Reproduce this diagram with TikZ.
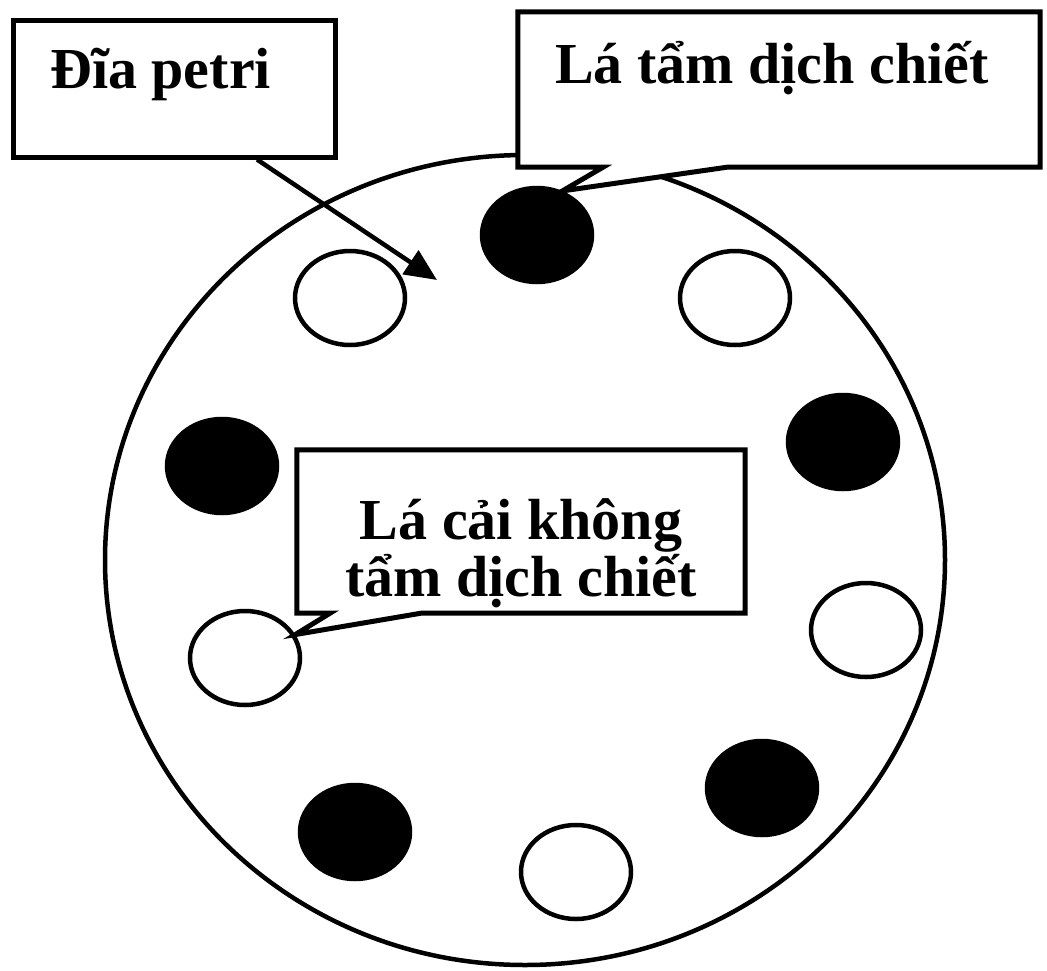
\documentclass[tikz,border=0pt]{standalone}
\usepackage{fontspec}
\setmainfont{Liberation Serif}
\usetikzlibrary{shapes.geometric, arrows.meta, positioning}

\tikzset{
  hole/.style={ellipse, draw, line width=4.5pt, inner sep=0pt, minimum width=110pt, minimum height=94pt},
  callout/.style={draw, fill=white, line width=5pt, line join=miter},
  lbl/.style={font=\fontsize{58}{57}\selectfont\bfseries, inner sep=0pt},
}

\begin{document}
\begin{tikzpicture}[x=1pt,y=-1pt]
  \useasboundingbox (0,0) rectangle (1047,970);

  % the dish
  \node[ellipse, draw, line width=4.5pt, inner sep=0pt,
        minimum width=840pt, minimum height=810pt] (dish) at (525,560) {};

  % leaf discs (black = soaked, white = not soaked)
  \foreach \n/\x/\y/\c in {h1/537/235/black, h2/350/298/white, h3/735/298/white,
                           h4/843/442/black, h5/222/466/black, h6/866/630/white,
                           h7/245/658/white, h8/762/788/black, h9/355/832/black,
                           h10/576/872/white}{
    \node[hole, fill=\c] (\n) at (\x,\y) {};
  }

  % Dia petri
  \node[callout, minimum width=322pt, minimum height=137pt] (petri) at (174,88.5) {};
  \node[lbl, anchor=base west] (petritext) at (50,88) {Đĩa petri};
  \coordinate (aim) at (437,280);
  \draw[line width=4.5pt, -{Triangle[length=32pt,width=28pt]}] ([xshift=83pt]petri.south) -- (aim);

  % la tam dich chiet
  \node[minimum width=522pt, minimum height=155pt, inner sep=0pt] (tam) at (779,89.5) {};
  \draw[callout] (tam.north west) -- (tam.north east) -- (tam.south east)
    -- ([xshift=-52pt]tam.south) -- (h1.60) -- ([xshift=-176pt]tam.south)
    -- (tam.south west) -- cycle;
  \node[lbl, anchor=base west] (tamtext) at (555,83) {Lá tẩm dịch chiết};

  % la cai khong tam
  \node[minimum width=448pt, minimum height=163pt, inner sep=0pt] (cai) at (521,531.5) {};
  \draw[callout] (cai.north west) -- (cai.north east) -- (cai.south east)
    -- ([xshift=-100pt]cai.south) -- (h7.25) -- ([xshift=-191pt]cai.south)
    -- (cai.south west) -- cycle;
  \node[lbl, align=center] (caitext) at (521,553) {Lá cải không\\tẩm dịch chiết};
\end{tikzpicture}
\end{document}
